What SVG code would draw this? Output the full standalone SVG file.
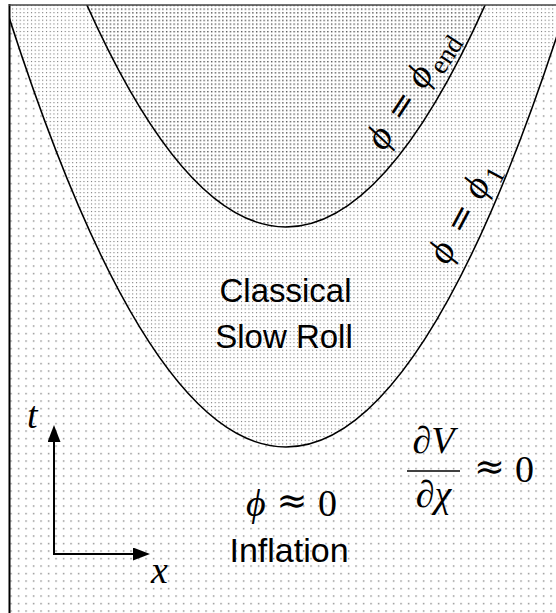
<svg xmlns="http://www.w3.org/2000/svg" width="556" height="613" viewBox="0 0 556 613">
<style>
.sans{font-family:"Liberation Sans",Arial,sans-serif;font-size:33px;fill:#000}
.m{font-family:"Liberation Serif","DejaVu Serif",serif;font-size:38px;fill:#000}
.mi{font-family:"Liberation Serif","DejaVu Serif",serif;font-size:38px;font-style:italic;fill:#000}
.sub{font-family:"Liberation Serif","DejaVu Serif",serif;font-size:27px;fill:#000}
.approx{font-family:"DejaVu Serif",serif;font-size:37px;fill:#000}
.eq{font-family:"DejaVu Serif",serif;font-size:34px;fill:#000}
.curve{fill:none;stroke:#000;stroke-width:1.6}
.axis{fill:none;stroke:#000;stroke-width:2}
</style>
<defs>
<pattern id="pOuter" width="7.5" height="7.5" patternUnits="userSpaceOnUse">
<rect x="3" y="3" width="1.2" height="1.2" fill="#555"/>
</pattern>
<pattern id="pMid" width="3.75" height="3.75" patternUnits="userSpaceOnUse">
<rect x="1" y="1" width="1" height="1" fill="#555"/>
</pattern>
<pattern id="pIn" width="3.75" height="3.75" patternUnits="userSpaceOnUse">
<rect x="1" y="1" width="1.3" height="1.3" fill="#333"/>
</pattern>
<clipPath id="frame"><rect x="10" y="5" width="546" height="608"/></clipPath>
<marker id="arr" markerUnits="userSpaceOnUse" markerWidth="18" markerHeight="14" refX="0" refY="6.5" orient="auto">
<path d="M0,0 L17,6.5 L0,13 Z" fill="#000"/>
</marker>
</defs>
<rect width="556" height="613" fill="#fff"/>
<g id="regions" clip-path="url(#frame)">
<rect x="10" y="5" width="546" height="608" fill="url(#pOuter)"/>
<path d="M -14,-57 Q 286,951 586,-57 Z" fill="#fff"/>
<path d="M -14,-57 Q 286,951 586,-57 Z" fill="url(#pMid)"/>
<path d="M 36,-123 Q 286,577 536,-123 Z" fill="#fff"/>
<path d="M 36,-123 Q 286,577 536,-123 Z" fill="url(#pIn)"/>
</g>
<g id="connectors" clip-path="url(#frame)">
<path id="curve-phi1" class="curve" d="M -14,-57 Q 286,951 586,-57"/>
<path id="curve-phiend" class="curve" d="M 36,-123 Q 286,577 536,-123"/>
</g>
<g id="frame-lines">
<line x1="9.5" y1="4" x2="9.5" y2="613" stroke="#000" stroke-width="2"/>
<line x1="9" y1="5" x2="556" y2="5" stroke="#444" stroke-width="1.5"/>
</g>
<g id="axes">
<path class="axis" d="M54,555 L54,442" marker-end="url(#arr)"/>
<path class="axis" d="M53,554 L133,554" marker-end="url(#arr)"/>
<text class="mi" x="27" y="428">t</text>
<text class="mi" x="151" y="583">x</text>
</g>
<g id="label-phiend" transform="translate(384,152) rotate(-57)">
<text class="mi" x="0" y="0">ϕ</text>
<text class="eq" x="48" y="0" text-anchor="middle">=</text>
<text class="mi" x="73.4" y="0">ϕ</text>
<text class="sub" x="96" y="8">end</text>
</g>
<g id="label-phi1" transform="translate(447.6,266) rotate(-62)">
<text class="mi" x="0" y="0">ϕ</text>
<text class="eq" x="48" y="0" text-anchor="middle">=</text>
<text class="mi" x="73.4" y="0">ϕ</text>
<text class="sub" x="96" y="8">1</text>
</g>
<g id="slow-roll">
<text class="sans" x="285.5" y="302" text-anchor="middle">Classical</text>
<text class="sans" x="284" y="348" text-anchor="middle">Slow Roll</text>
</g>
<g id="inflation">
<text class="mi" x="246" y="516">ϕ</text>
<text class="approx" x="292" y="513" text-anchor="middle">≈</text>
<text class="m" x="318" y="516">0</text>
<text class="sans" x="289" y="562" text-anchor="middle" style="font-size:34px">Inflation</text>
</g>
<g id="potential">
<text class="mi" x="433.5" y="453" text-anchor="middle">∂V</text>
<line x1="407" y1="471" x2="460" y2="471" stroke="#000" stroke-width="1.6"/>
<text class="mi" x="433.5" y="507" text-anchor="middle">∂χ</text>
<text class="approx" x="489.5" y="479" text-anchor="middle">≈</text>
<text class="m" x="515" y="482">0</text>
</g>
</svg>
